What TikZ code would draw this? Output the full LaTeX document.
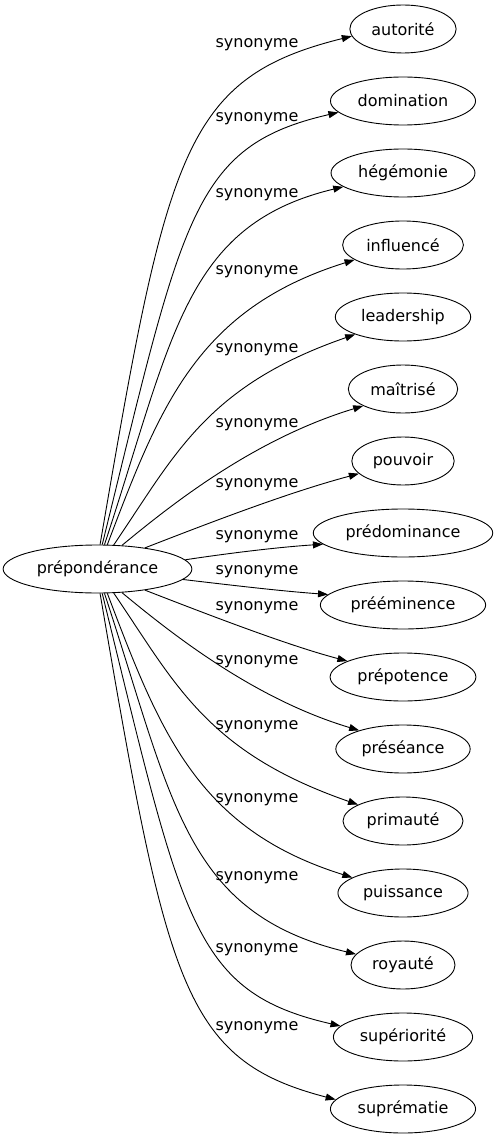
\documentclass[tikz,border=0pt]{standalone}
\usepackage{fontspec}
\setmainfont{DejaVu Sans}
\usetikzlibrary{arrows.meta,shapes.geometric}
\begin{document}
\begin{tikzpicture}[x=1pt,y=-1pt,
  el/.style={draw,ellipse,line width=0.9pt,inner xsep=6pt,inner ysep=0pt,minimum height=48pt,font=\fontsize{16pt}{19pt}\selectfont},
  lab/.style={inner sep=0pt,font=\fontsize{16pt}{19pt}\selectfont},
  edge/.style={line width=0.9pt,-{Triangle[length=10pt,width=7pt]}}]
\path[use as bounding box] (0,0) rectangle (497,1139);
\node[el] (c) at (97.5,569) {prépondérance};
\node[el] (n0) at (403,29) {autorité};
\node[el] (n1) at (403,101) {domination};
\node[el] (n2) at (403,173) {hégémonie};
\node[el] (n3) at (403,245) {influencé};
\node[el] (n4) at (403,317) {leadership};
\node[el] (n5) at (403,389) {maîtrisé};
\node[el] (n6) at (403,461) {pouvoir};
\node[el] (n7) at (403,533) {prédominance};
\node[el] (n8) at (403,605) {prééminence};
\node[el] (n9) at (403,677) {prépotence};
\node[el] (n10) at (403,749) {préséance};
\node[el] (n11) at (403,821) {primauté};
\node[el] (n12) at (403,893) {puissance};
\node[el] (n13) at (403,965) {royauté};
\node[el] (n14) at (403,1037) {supériorité};
\node[el] (n15) at (403,1109) {suprématie};
\node[lab] (l0) at (257,45) {synonyme};
\node[lab] (l1) at (257,119) {synonyme};
\node[lab] (l2) at (257,195) {synonyme};
\node[lab] (l3) at (257,272) {synonyme};
\node[lab] (l4) at (257,350) {synonyme};
\node[lab] (l5) at (257,425) {synonyme};
\node[lab] (l6) at (257,485) {synonyme};
\node[lab] (l7) at (257,537) {synonyme};
\node[lab] (l8) at (257,572) {synonyme};
\node[lab] (l9) at (257,608) {synonyme};
\node[lab] (l10) at (257,662) {synonyme};
\node[lab] (l11) at (257,727) {synonyme};
\node[lab] (l12) at (257,800) {synonyme};
\node[lab] (l13) at (257,878) {synonyme};
\node[lab] (l14) at (257,950) {synonyme};
\node[lab] (l15) at (257,1028) {synonyme};
% upper edges
\draw[edge] (c.84) .. controls (167,153) and (183,78) .. (n0.188);
\draw[edge] (c.79) .. controls (183,216) and (192,146) .. (n1.190);
\draw[edge] (c.74) .. controls (173,337) and (184,225) .. (n2.193);
\draw[edge] (c.68) .. controls (160,406) and (197,309) .. (n3.197);
\draw[edge] (c.56) .. controls (175,455) and (206,386) .. (n4.200);
\draw[edge] (c.44) .. controls (172,504) and (254,439) .. (n5.203);
\draw[edge] (c.24) .. controls (214,521) and (290,492) .. (n6.196);
\draw[edge] (c.6.5) .. controls (230,553) and (280,547) .. (n7.188);
% lower edges
\draw[edge] (c.353.5) .. controls (230,585) and (280,591) .. (n8.172);
\draw[edge] (c.336) .. controls (214,617) and (290,646) .. (n9.164);
\draw[edge] (c.316) .. controls (172,634) and (254,699) .. (n10.157);
\draw[edge] (c.304) .. controls (175,683) and (206,752) .. (n11.160);
\draw[edge] (c.292) .. controls (160,732) and (197,829) .. (n12.163);
\draw[edge] (c.286) .. controls (173,801) and (184,913) .. (n13.167);
\draw[edge] (c.281) .. controls (183,922) and (192,992) .. (n14.170);
\draw[edge] (c.276) .. controls (167,985) and (183,1060) .. (n15.172);
\end{tikzpicture}
\end{document}
